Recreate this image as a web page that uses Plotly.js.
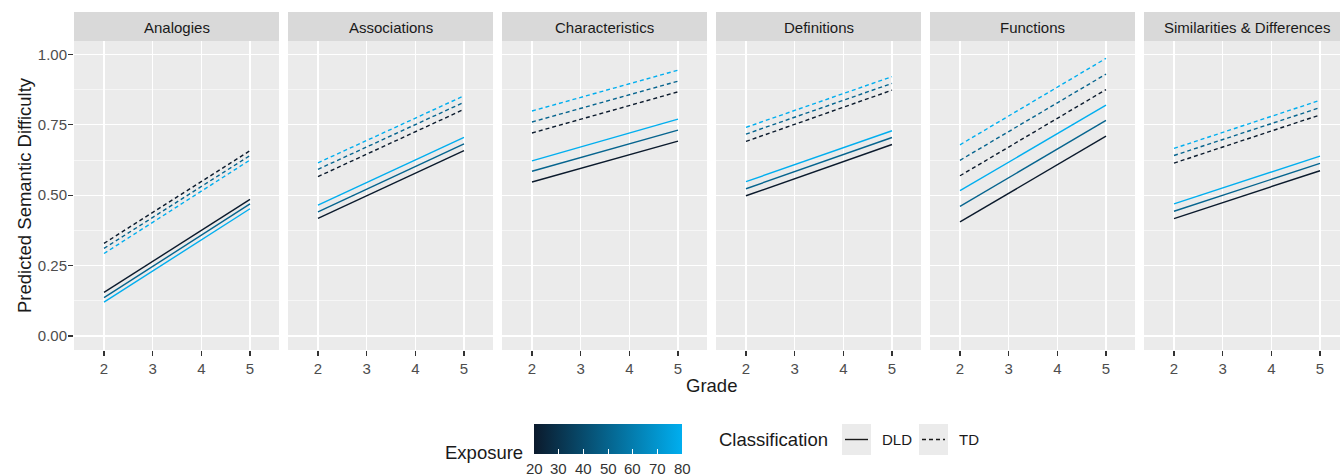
<!DOCTYPE html>
<html>
<head>
<meta charset="utf-8">
<script src="https://cdn.plot.ly/plotly-3.0.1.min.js"></script>
<style>html,body{margin:0;padding:0;background:#fff;width:1340px;height:476px;overflow:hidden;}#chart{width:1340px;height:476px;overflow:hidden;}</style>
</head>
<body>
<div id="chart"></div>
<script>
// ---- data ----
const panels = ["Analogies", "Associations", "Characteristics", "Definitions", "Functions", "Similarities & Differences"];
const grades = [2, 5];
const exposureLevels = [20, 50, 80];
const exposureRange = [20, 80];
const exposureTicks = [20, 30, 40, 50, 60, 70, 80];
const yTicks = [0, 0.25, 0.5, 0.75, 1.0];
const yTickText = ["0.00", "0.25", "0.50", "0.75", "1.00"];
const xTicks = [2, 3, 4, 5];
// predicted difficulty at grade 2 and grade 5, per panel
const dldExp20 = [[0.155, 0.485], [0.418, 0.658], [0.547, 0.692], [0.498, 0.680], [0.405, 0.710], [0.417, 0.587]];
const dldExp50 = [[0.136, 0.469], [0.441, 0.682], [0.585, 0.731], [0.523, 0.705], [0.460, 0.766], [0.443, 0.613]];
const dldExp80 = [[0.120, 0.452], [0.465, 0.705], [0.622, 0.770], [0.548, 0.729], [0.516, 0.820], [0.469, 0.639]];
const tdExp20  = [[0.329, 0.658], [0.566, 0.805], [0.721, 0.867], [0.691, 0.873], [0.569, 0.875], [0.614, 0.785]];
const tdExp50  = [[0.311, 0.641], [0.592, 0.830], [0.760, 0.905], [0.717, 0.897], [0.624, 0.930], [0.641, 0.811]];
const tdExp80  = [[0.293, 0.625], [0.615, 0.853], [0.799, 0.944], [0.741, 0.921], [0.679, 0.986], [0.666, 0.837]];

// ---- styling ----
const W = 1340, H = 476;
const px = x => x / W;
const py = y => 1 - y / H;
const lowC = [11, 26, 44], highC = [0, 174, 239];
function expColor(v) {
  const t = (v - exposureRange[0]) / (exposureRange[1] - exposureRange[0]);
  const c = lowC.map((a, i) => Math.round(a + (highC[i] - a) * t));
  return 'rgb(' + c.join(',') + ')';
}
const FONT = 'Liberation Sans, Arial, Helvetica, sans-serif';
const SMALL = 15, BIG = 18.5;
const panelLeft = [74, 288, 502, 716, 930, 1144];
const panelW = 205;
const unitPx = 146 / 3;
const xMin = 2 - 30 / unitPx;
const yRange = [-0.0497, 1.0476];
const plotTop = 41, plotBot = 350;

const traces = [];
const layout = {
  width: W, height: H, autosize: false,
  margin: {l: 0, r: 0, t: 0, b: 0, pad: 0},
  paper_bgcolor: '#ffffff', plot_bgcolor: '#EBEBEB',
  showlegend: false,
  font: {family: FONT, color: '#4D4D4D'},
  shapes: [], annotations: []
};

const series = [
  {vals: dldExp20, exp: exposureLevels[0], dash: 'solid'},
  {vals: dldExp50, exp: exposureLevels[1], dash: 'solid'},
  {vals: dldExp80, exp: exposureLevels[2], dash: 'solid'},
  {vals: tdExp20, exp: exposureLevels[0], dash: '4px,3px'},
  {vals: tdExp50, exp: exposureLevels[1], dash: '4px,3px'},
  {vals: tdExp80, exp: exposureLevels[2], dash: '4px,3px'}
];

panels.forEach((name, i) => {
  const sfx = i === 0 ? '' : String(i + 1);
  const L = panelLeft[i];
  const R = Math.min(L + panelW, W);
  const xMax = xMin + (R - L) / unitPx;
  layout['xaxis' + sfx] = {
    domain: [px(L), px(R)], range: [xMin, xMax], anchor: 'y' + sfx,
    tickvals: xTicks, ticktext: xTicks.map(String),
    showgrid: true, gridcolor: '#ffffff', gridwidth: 1.1,
    zeroline: false, showline: false,
    ticks: 'outside', ticklen: 5, tickwidth: 1.1, tickcolor: '#333333',
    tickfont: {size: SMALL, color: '#4D4D4D', family: FONT}, fixedrange: true
  };
  layout['yaxis' + sfx] = {
    domain: [py(plotBot), py(plotTop)], range: yRange, anchor: 'x' + sfx,
    tickvals: yTicks, ticktext: yTickText,
    showticklabels: i === 0, ticklabelstandoff: -2,
    ticks: i === 0 ? 'outside' : '', ticklen: 5, tickwidth: 1.1, tickcolor: '#333333',
    tickfont: {size: SMALL, color: '#4D4D4D', family: FONT},
    showgrid: true, gridcolor: '#ffffff', gridwidth: 1.1,
    minor: {tick0: 0.125, dtick: 0.25, showgrid: true, gridcolor: '#ffffff', gridwidth: 0.55, ticks: ''},
    zeroline: false, showline: false, fixedrange: true
  };
  // strip
  layout.shapes.push({type: 'rect', xref: 'paper', yref: 'paper', x0: px(L), x1: px(R), y0: py(41), y1: py(12),
    fillcolor: '#D9D9D9', line: {width: 0}, layer: 'below'});
  layout.annotations.push({xref: 'paper', yref: 'paper', x: px(L + panelW / 2), y: py(27), text: name, showarrow: false,
    xanchor: 'center', yanchor: 'middle', font: {size: SMALL, color: '#1A1A1A', family: FONT}});
  series.forEach(s => {
    traces.push({
      type: 'scatter', mode: 'lines', x: grades, y: s.vals[i],
      xaxis: 'x' + sfx, yaxis: 'y' + sfx,
      line: {color: expColor(s.exp), width: 1.4, dash: s.dash},
      hoverinfo: 'skip', showlegend: false
    });
  });
});

// colourbar carrier (markers placed below the visible y range)
const cbLeft = 534, cbWidth = 148, cbTop = 424, cbH = 30;
traces.push({
  type: 'scatter', mode: 'markers', x: [3, 4], y: [-5, -5], xaxis: 'x', yaxis: 'y',
  marker: {
    color: exposureRange, cmin: exposureRange[0], cmax: exposureRange[1], size: 1,
    colorscale: [[0, 'rgb(' + lowC.join(',') + ')'], [1, 'rgb(' + highC.join(',') + ')']],
    showscale: true,
    colorbar: {
      orientation: 'h', x: px(cbLeft + cbWidth / 2), xanchor: 'center', y: py(cbTop), yanchor: 'top',
      lenmode: 'pixels', len: cbWidth, thickness: cbH, thicknessmode: 'pixels',
      xpad: 0, ypad: 0, outlinewidth: 0,
      tickvals: exposureTicks, showticklabels: false,
      ticks: 'inside', ticklen: 5, tickcolor: '#ffffff', tickwidth: 1,
      title: {text: ''}
    }
  },
  hoverinfo: 'skip', showlegend: false
});
// colour-bar labels and white top-edge ticks, like ggplot's guide
exposureTicks.forEach(v => {
  const xx = cbLeft + (v - exposureRange[0]) / (exposureRange[1] - exposureRange[0]) * cbWidth;
  layout.shapes.push({type: 'line', xref: 'paper', yref: 'paper', x0: px(xx), x1: px(xx), y0: py(cbTop), y1: py(cbTop + 5),
    line: {color: '#ffffff', width: 1}});
  layout.annotations.push({xref: 'paper', yref: 'paper', x: px(xx), y: py(468), text: String(v), showarrow: false,
    xanchor: 'center', yanchor: 'middle', font: {size: SMALL, color: '#333333', family: FONT}});
});

// titles
layout.annotations.push({xref: 'paper', yref: 'paper', x: px(711), y: py(385), text: 'Grade', showarrow: false,
  xanchor: 'center', yanchor: 'middle', font: {size: BIG, color: '#1A1A1A', family: FONT}});
layout.annotations.push({xref: 'paper', yref: 'paper', x: px(24), y: py(195), text: 'Predicted Semantic Difficulty', showarrow: false,
  textangle: -90, xanchor: 'center', yanchor: 'middle', font: {size: BIG, color: '#1A1A1A', family: FONT}});
// legend: exposure title
layout.annotations.push({xref: 'paper', yref: 'paper', x: px(525), y: py(452), text: 'Exposure', showarrow: false,
  xanchor: 'right', yanchor: 'middle', font: {size: BIG, color: '#1A1A1A', family: FONT}});
// legend: classification
layout.annotations.push({xref: 'paper', yref: 'paper', x: px(717), y: py(439), text: 'Classification', showarrow: false,
  xanchor: 'left', yanchor: 'middle', font: {size: BIG, color: '#1A1A1A', family: FONT}});
const keyBoxes = [{x0: 842, label: 'DLD', dash: 'solid'}, {x0: 919, label: 'TD', dash: 'dot'}];
keyBoxes.forEach(k => {
  layout.shapes.push({type: 'rect', xref: 'paper', yref: 'paper', x0: px(k.x0), x1: px(k.x0 + 29), y0: py(455), y1: py(424),
    fillcolor: '#EBEBEB', line: {width: 0}});
  layout.shapes.push({type: 'line', xref: 'paper', yref: 'paper', x0: px(k.x0 + 3), x1: px(k.x0 + 26), y0: py(439.5), y1: py(439.5),
    line: {color: '#1A1A1A', width: 1.4, dash: k.dash === 'solid' ? 'solid' : '4px,3px'}});
  layout.annotations.push({xref: 'paper', yref: 'paper', x: px(k.x0 + 38), y: py(439.5), text: k.label, showarrow: false,
    xanchor: 'left', yanchor: 'middle', font: {size: SMALL, color: '#1A1A1A', family: FONT}});
});

Plotly.newPlot('chart', traces, layout, {staticPlot: true, displayModeBar: false});
</script>
</body>
</html>
